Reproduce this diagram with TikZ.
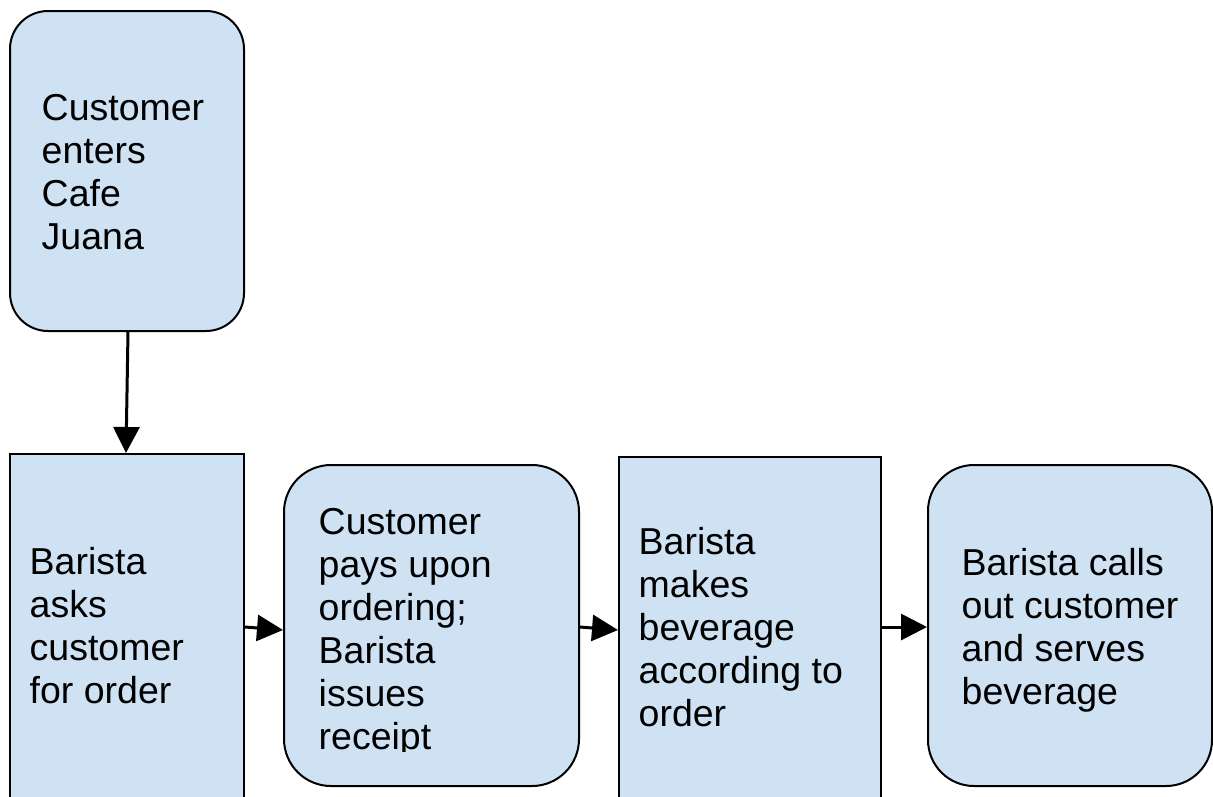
\documentclass[tikz,border=0pt]{standalone}
\usepackage{fontspec}
\setmainfont{Liberation Sans}
\usetikzlibrary{arrows.meta}
\definecolor{boxblue}{HTML}{CFE2F3}
\begin{document}
\begin{tikzpicture}[x=1pt,y=-1pt,
  shapebox/.style={draw=black, line width=2pt, fill=boxblue, inner sep=0pt},
  txt/.style={anchor=west, inner sep=0pt, align=left, font=\fontsize{37.5}{43}\selectfont},
  flow/.style={line width=3pt, -{Triangle[length=26pt,width=26pt]}}]
\clip (0,0) rectangle (1213,796);
\fill[white] (0,0) rectangle (1213,796);
% boxes
\node[shapebox, rounded corners=38pt, minimum width=234pt, minimum height=320pt] (A) at (127,171) {};
\node[shapebox, minimum width=234pt, minimum height=346pt] (B) at (127,627) {};
\node[shapebox, rounded corners=47pt, minimum width=295pt, minimum height=321pt] (C) at (431.5,625.5) {};
\node[shapebox, minimum width=262pt, minimum height=346pt] (D) at (750,630) {};
\node[shapebox, rounded corners=46pt, minimum width=284pt, minimum height=321pt] (E) at (1070,625.5) {};
% texts
\node[txt] (At) at (41.5,172) {Customer\\enters\\Cafe\\Juana};
\node[txt] (Bt) at (29.5,626) {Barista\\asks\\customer\\for order};
\begin{scope}
\clip (284,465) rectangle (579,751);
\node[txt] (Ct) at (318.5,633) {Customer\\pays upon\\ordering;\\Barista\\issues\\receipt};
\end{scope}
\node[txt] (Dt) at (638.5,627.5) {Barista\\makes\\beverage\\according to\\order};
\node[txt] (Et) at (961.5,630) {Barista calls\\out customer\\and serves\\beverage};
% connectors
\draw[flow] ([xshift=1pt]A.south) -- ([xshift=-1pt]B.north);
\draw[flow] (B.east) -- ([yshift=-4.5pt]C.west);
\draw[flow] ([yshift=-1.5pt]C.west -| C.east) -- (D.west);
\draw[flow] ([yshift=3pt]D.east) -- ([yshift=-1.5pt]E.west);
\end{tikzpicture}
\end{document}
